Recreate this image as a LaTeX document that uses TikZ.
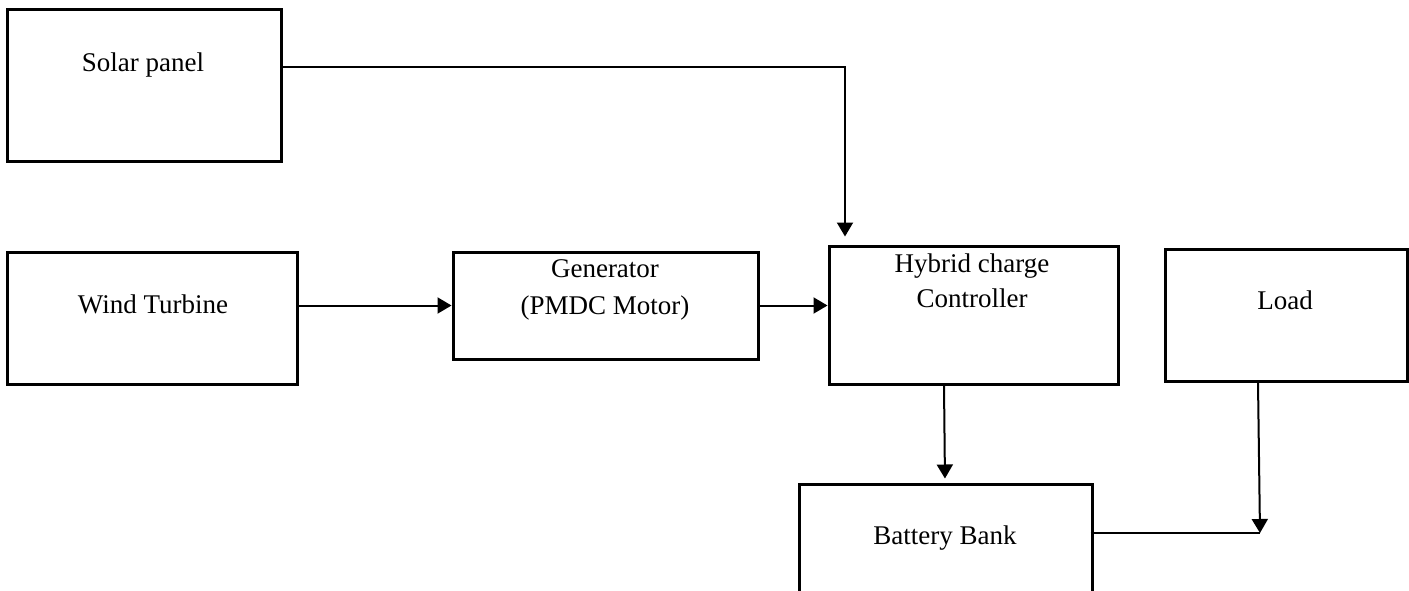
\documentclass[tikz,border=0pt]{standalone}
\usepackage{fontspec}
\setmainfont{Liberation Serif}
\usetikzlibrary{arrows.meta}
\begin{document}
\begin{tikzpicture}[x=1pt,y=-1pt,
  box/.style={draw, line width=3pt, rectangle, inner sep=0pt},
  lbl/.style={anchor=base, inner sep=0pt, font=\fontsize{27}{36}\selectfont},
  conn/.style={line width=2pt, -{Triangle[length=14pt,width=16pt]}},
  wire/.style={line width=2pt}]
\useasboundingbox (0,0) rectangle (1409,590);
\clip (0,0) rectangle (1409,590);
% boxes
\node[box, minimum width=274pt, minimum height=152pt] (solar) at (144,85) {};
\node[box, minimum width=290pt, minimum height=132pt] (wind) at (152,318) {};
\node[box, minimum width=305pt, minimum height=107pt] (gen) at (605.5,305.5) {};
\node[box, minimum width=289pt, minimum height=138pt] (ctrl) at (973.5,315) {};
\node[box, minimum width=242pt, minimum height=132pt] (load) at (1286,315) {};
\node[box, minimum width=293pt, minimum height=136pt] (batt) at (945.5,552) {};
% labels
\node[lbl] (tsolar) at (143,71) {Solar panel};
\node[lbl] (twind) at (153,313) {Wind Turbine};
\node[lbl] (tgen1) at (605,277) {Generator};
\node[lbl] (tgen2) at (605,314) {(PMDC Motor)};
\node[lbl] (tctrl1) at (972,272) {Hybrid charge};
\node[lbl] (tctrl2) at (972,307) {Controller};
\node[lbl] (tload) at (1285,309) {Load};
\node[lbl] (tbatt) at (945,544) {Battery Bank};
% connectors
\coordinate (sA) at (279,67);
\coordinate (sB) at (845,246);
\draw[conn, shorten >=8pt] ([xshift=-2pt]solar.east |- sA) -| (ctrl.north -| sB);
\draw[conn] (wind.east |- gen.west) -- (gen.west);
\draw[conn] ([xshift=-2pt]gen.east) -- (ctrl.west |- gen.east);
\draw[conn, shorten >=4pt] ([xshift=-29.5pt]ctrl.south) -- ([xshift=-0.5pt]batt.north);
\coordinate (j) at (1260,533);
\draw[conn] ([xshift=-28pt]load.south) -- (j);
\draw[wire] ([xshift=-3pt]batt.east |- j) -- (j);
\end{tikzpicture}
\end{document}
